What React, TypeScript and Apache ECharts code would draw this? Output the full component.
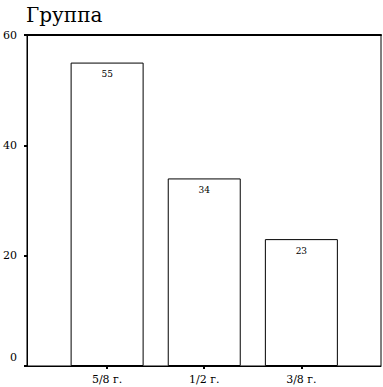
import React, { useEffect, useRef } from "react";
import * as echarts from "echarts";

const title = "Группа";
const categories = ["5/8 г.", "1/2 г.", "3/8 г."];
const values = [55, 34, 23];
const yTicks = [0, 20, 40, 60];

const FONT = "DejaVu Serif";

export default function App() {
  const ref = useRef<HTMLDivElement>(null);
  useEffect(() => {
    if (!ref.current) return;
    const chart = echarts.init(ref.current, undefined, { renderer: "svg" });
    const positions = categories.map((_, i) => i + 1);
    chart.setOption({
      animation: false,
      backgroundColor: "#ffffff",
      textStyle: { fontFamily: FONT },
      title: {
        text: title,
        left: 21,
        top: 0,
        textStyle: { fontFamily: FONT, fontSize: 20, fontWeight: "normal", color: "#000" },
      },
      grid: {
        left: 26,
        right: 2,
        top: 35,
        bottom: 21,
        show: true,
        borderColor: "#000",
        borderWidth: 1,
        containLabel: false,
      },
      xAxis: [
        {
          type: "value",
          min: 0.175,
          max: 3.82,
          position: "bottom",
          splitLine: { show: false },
          axisLine: { show: true, onZero: false, lineStyle: { color: "#000", width: 1 } },
          axisTick: {
            show: true,
            customValues: positions,
            length: 3,
            lineStyle: { color: "#000", width: 2 },
          },
          axisLabel: {
            customValues: positions,
            margin: 8,
            color: "#000",
            fontFamily: FONT,
            fontSize: 11,
            formatter: (v: number) => categories[Math.round(v) - 1] ?? "",
          },
        },
        {
          type: "value",
          min: 0.175,
          max: 3.82,
          position: "top",
          splitLine: { show: false },
          axisLine: { show: true, onZero: false, lineStyle: { color: "#000", width: 2 } },
          axisTick: { show: false },
          axisLabel: { show: false },
        },
      ],
      yAxis: {
        type: "value",
        min: 0,
        max: 60,
        interval: 20,
        splitLine: { show: false },
        axisLine: { show: true, lineStyle: { color: "#000", width: 1 } },
        axisTick: { show: true, customValues: yTicks, length: 3, lineStyle: { color: "#000", width: 2 } },
        axisLabel: {
          customValues: yTicks,
          margin: 10,
          color: "#000",
          fontFamily: FONT,
          fontSize: 11,
          formatter: (v: number) => (v === 0 ? "{z|0}" : String(v)),
          rich: {
            z: { fontFamily: FONT, fontSize: 11, color: "#000", padding: [0, 0, 18, 0] },
          },
        },
      },
      series: [
        {
          type: "bar",
          xAxisIndex: 0,
          barWidth: 73,
          data: values.map((v, i) => [positions[i], v]),
          itemStyle: { color: "#ffffff", borderColor: "#000", borderWidth: 1 },
          label: {
            show: true,
            position: "insideTop",
            distance: 7,
            color: "#000",
            fontFamily: FONT,
            fontSize: 9,
            formatter: (p: any) => String(p.value[1]),
          },
        },
      ],
    });
    return () => chart.dispose();
  }, []);
  return (
    <div
      ref={ref}
      style={{ position: "fixed", left: 0, top: 0, width: 383, height: 387 }}
    />
  );
}
